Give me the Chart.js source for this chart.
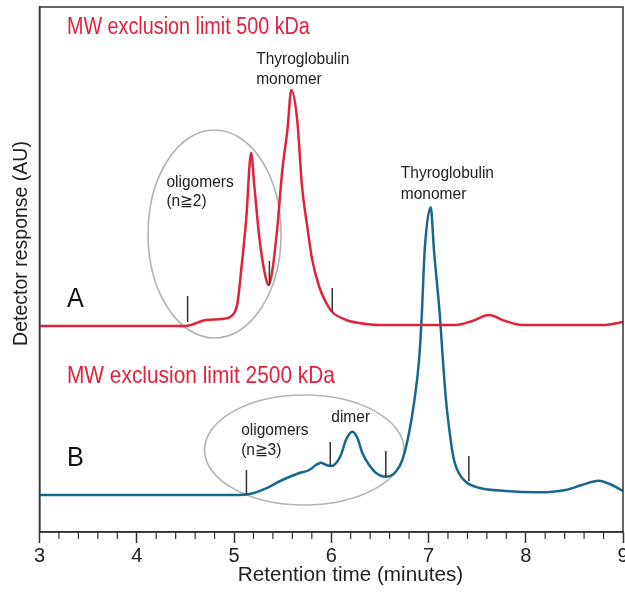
<!DOCTYPE html>
<html>
<head>
<meta charset="utf-8">
<script src="https://cdn.jsdelivr.net/npm/chart.js@4.4.1/dist/chart.umd.min.js"></script>
<style>
html,body{margin:0;padding:0;background:#fff;}
#wrap{position:relative;width:625px;height:596px;}
</style>
</head>
<body>
<div id="wrap"><canvas id="c" width="625" height="596"></canvas></div>
<script>
// ---- Data (retention time in minutes, detector response in arbitrary units) ----
const timeA = [3.0, 4.5, 4.715, 4.88, 4.985, 5.036, 5.074, 5.125, 5.176, 5.21, 5.26, 5.31, 5.357, 5.395, 5.446, 5.497, 5.549, 5.59, 5.65, 5.70, 5.754, 5.805, 5.877, 5.949, 6.01, 6.154, 6.287, 6.5, 7.0, 7.28, 7.45, 7.62, 7.79, 7.96, 8.5, 8.8, 9.0];
const respA = [206, 206, 212, 213, 217, 229, 262, 312, 379, 345, 295, 262, 247, 262, 305, 362, 402, 442, 412, 345, 305, 272, 245, 229, 220, 212, 209, 207, 207, 207, 211, 217, 211, 207, 207, 207, 210];

const timeB = [3.0, 5.0, 5.159, 5.33, 5.497, 5.672, 5.774, 5.843, 5.894, 5.946, 5.997, 6.048, 6.10, 6.151, 6.218, 6.27, 6.321, 6.39, 6.458, 6.561, 6.664, 6.731, 6.80, 6.851, 6.903, 6.93, 6.961, 7.023, 7.056, 7.118, 7.141, 7.18, 7.228, 7.262, 7.313, 7.382, 7.518, 7.792, 8.133, 8.407, 8.577, 8.749, 8.885, 9.0];
const respB = [37, 37, 38, 43.7, 52, 59, 62, 67, 69.3, 67, 66, 68.7, 77, 92, 100.3, 93.7, 78.7, 67, 59.3, 55.3, 60.3, 72, 99, 129, 172, 215, 282, 324.7, 282, 215, 182, 132, 92, 72, 58.7, 50.3, 44.3, 41, 39.7, 42, 47, 51.3, 47, 41];

const xTicks = [3, 4, 5, 6, 7, 8, 9];
const xTitle = 'Retention time (minutes)';
const yTitle = 'Detector response (AU)';

// fraction-boundary markers [time, yFrom, yTo]
const markersA = [[4.523, 210, 236], [5.364, 247, 271], [6.01, 220, 244]];
const markersB = [[5.128, 37, 62], [5.99, 66, 90], [6.561, 55, 81], [7.415, 51, 76]];

// ellipses [centerTime, centerResp, radiusTime, radiusResp]
const ellipses = [[4.80, 298, 0.684, 104], [5.723, 82, 1.026, 55]];

// text labels [text, time, resp, color, size, horizontal squeeze]
const RED = '#e2223a';
const BLUE = '#1a678c';
const labels = [
  ['MW exclusion limit 500 kDa', 3.282, 504, RED, 23, 0.86],
  ['MW exclusion limit 2500 kDa', 3.282, 156, RED, 24, 0.87],
  ['A', 3.282, 233, '#111', 28, 0.9],
  ['B', 3.282, 74, '#111', 28, 0.9],
  ['Thyroglobulin', 5.228, 472, '#222', 16, 0.97],
  ['monomer', 5.228, 452, '#222', 16, 0.97],
  ['Thyroglobulin', 6.715, 358, '#222', 16, 0.97],
  ['monomer', 6.715, 337, '#222', 16, 0.97],
  ['oligomers', 4.305, 349, '#222', 16, 0.97],
  ['(n\u22672)', 4.305, 330, '#222', 16, 0.97],
  ['oligomers', 5.074, 101, '#222', 16, 0.97],
  ['(n\u22673)', 5.074, 81, '#222', 16, 0.97],
  ['dimer', 6.0, 114, '#222', 16, 0.97]
];

const FONT = "'Liberation Sans', Arial, sans-serif";

const zip = (xs, ys) => xs.map((x, i) => ({x: x, y: ys[i]}));

const annot = {
  id: 'annot',
  beforeDatasetsDraw(chart) {
    const {ctx, scales: {x, y}} = chart;
    ctx.save();
    ctx.strokeStyle = '#b3b3b3';
    ctx.lineWidth = 1.6;
    ellipses.forEach(([cx, cy, rx, ry]) => {
      const px = x.getPixelForValue(cx), py = y.getPixelForValue(cy);
      const prx = Math.abs(x.getPixelForValue(cx + rx) - px);
      const pry = Math.abs(y.getPixelForValue(cy + ry) - py);
      ctx.beginPath();
      ctx.ellipse(px, py, prx, pry, 0, 0, Math.PI * 2);
      ctx.stroke();
    });
    ctx.restore();
  },
  afterDatasetsDraw(chart) {
    const {ctx, chartArea: ca, scales: {x, y}} = chart;
    ctx.save();
    // markers
    ctx.strokeStyle = '#333';
    ctx.lineWidth = 1.5;
    markersA.concat(markersB).forEach(([t, y0, y1]) => {
      const px = x.getPixelForValue(t);
      ctx.beginPath();
      ctx.moveTo(px, y.getPixelForValue(y0));
      ctx.lineTo(px, y.getPixelForValue(y1));
      ctx.stroke();
    });
    // labels
    ctx.textBaseline = 'middle';
    ctx.textAlign = 'left';
    labels.forEach(([txt, t, r, col, sz, sx]) => {
      ctx.save();
      ctx.fillStyle = col;
      ctx.font = sz + 'px ' + FONT;
      ctx.translate(x.getPixelForValue(t), y.getPixelForValue(r));
      ctx.scale(sx, 1);
      ctx.fillText(txt, 0, 0);
      ctx.restore();
    });
    // frame
    ctx.strokeStyle = '#333';
    ctx.lineWidth = 1.5;
    ctx.strokeRect(ca.left, ca.top, ca.right - ca.left, ca.bottom - ca.top);
    // minor ticks every 0.2 min
    ctx.lineWidth = 1.2;
    for (let i = 0; i <= 30; i++) {
      if (i % 5 === 0) continue;
      const px = x.getPixelForValue(3 + i * 0.2);
      ctx.beginPath();
      ctx.moveTo(px, ca.bottom);
      ctx.lineTo(px, ca.bottom + 7);
      ctx.stroke();
    }
    // axis titles
    ctx.fillStyle = '#222';
    ctx.textAlign = 'center';
    ctx.font = '20.7px ' + FONT;
    ctx.fillText(xTitle, x.getPixelForValue(6.198), ca.bottom + 43);
    ctx.save();
    ctx.font = '19.5px ' + FONT;
    ctx.translate(21.5, y.getPixelForValue(288.5));
    ctx.rotate(-Math.PI / 2);
    ctx.fillText(yTitle, 0, 0);
    ctx.restore();
    ctx.restore();
  }
};

new Chart(document.getElementById('c'), {
  type: 'line',
  data: {
    datasets: [
      {label: 'A', data: zip(timeA, respA), borderColor: RED, borderWidth: 2.5, pointRadius: 0, cubicInterpolationMode: 'monotone', fill: false},
      {label: 'B', data: zip(timeB, respB), borderColor: BLUE, borderWidth: 2.5, pointRadius: 0, cubicInterpolationMode: 'monotone', fill: false}
    ]
  },
  options: {
    responsive: false,
    animation: false,
    events: [],
    layout: {padding: {top: 7, right: 2, left: 0, bottom: 0}},
    plugins: {legend: {display: false}, tooltip: {enabled: false}},
    scales: {
      x: {
        type: 'linear', min: 3, max: 9,
        afterBuildTicks: (s) => { s.ticks = xTicks.map(v => ({value: v})); },
        afterFit: (s) => { s.height = 64; s.paddingLeft = 0; s.paddingRight = 0; },
        grid: {drawOnChartArea: false, tickLength: 11, color: '#333', tickWidth: 1.5},
        border: {display: true, color: '#333', width: 1.5},
        ticks: {font: {family: FONT, size: 20}, color: '#222', padding: 1, autoSkip: false, maxRotation: 0},
        title: {display: false}
      },
      y: {
        min: 0, max: 525,
        afterFit: (s) => { s.width = 39.5; },
        grid: {display: false},
        border: {display: true, color: '#333', width: 1.5},
        ticks: {display: false},
        title: {display: false}
      }
    }
  },
  plugins: [annot]
});
</script>
</body>
</html>
